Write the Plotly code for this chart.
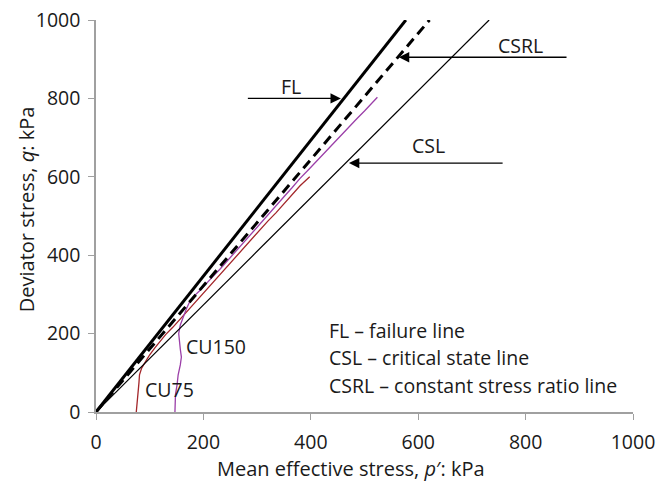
import plotly.graph_objects as go

# Line gradients (q/p ratios)
M_FL = 1.733
M_CSRL = 1.61
M_CSL = 1.366

# Stress paths (p', q) in kPa
cu75_p = [75, 76, 78, 80, 80, 81, 85, 92, 100, 110, 119, 130, 143, 156, 171, 185, 200, 214, 230, 245,
          260, 275, 290, 305, 320, 335, 350, 365, 380, 398]
cu75_q = [0, 15, 35, 56, 75, 95, 112, 128, 146, 164, 180, 198, 216, 236, 259, 280, 302, 324, 348, 371,
          394, 418, 440, 463, 487, 508, 531, 553, 577, 600]

cu150_p = [147, 147, 148, 151, 153, 157, 159, 157, 155, 154, 157, 162, 168, 174, 182, 192, 205, 218, 232,
           246, 260, 275, 290, 305, 320, 335, 350, 365, 380, 397, 412, 427, 442, 457, 472, 487, 500, 512, 524]
cu150_q = [0, 20, 45, 70, 95, 120, 140, 160, 180, 200, 222, 242, 262, 280, 295, 308, 326, 346, 366,
           388, 410, 433, 456, 480, 503, 526, 549, 572, 596, 620, 642, 664, 686, 708, 729, 750, 768, 786, 803]

x_ticks = [0, 200, 400, 600, 800, 1000]
y_ticks = [0, 200, 400, 600, 800, 1000]

legend_lines = ["FL – failure line", "CSL – critical state line", "CSRL – constant stress ratio line"]

FONT = "Open Sans"
TXT = "#1a1a1a"
fig = go.Figure()

fig.add_trace(go.Scatter(x=cu75_p, y=cu75_q, mode="lines",
                         line=dict(color="#A3262A", width=1.3), showlegend=False))
fig.add_trace(go.Scatter(x=cu150_p, y=cu150_q, mode="lines",
                         line=dict(color="#9B3FA8", width=1.3), showlegend=False))
fig.add_trace(go.Scatter(x=[0, 1000 / M_CSL], y=[0, 1000], mode="lines",
                         line=dict(color="black", width=1.2), showlegend=False))
fig.add_trace(go.Scatter(x=[0, 1000 / M_CSRL], y=[0, 1000], mode="lines",
                         line=dict(color="black", width=3, dash="10px,6px"), showlegend=False))
fig.add_trace(go.Scatter(x=[0, 1000 / M_FL], y=[0, 1000], mode="lines",
                         line=dict(color="black", width=3), showlegend=False))

# Arrows (head, tail) in data coordinates
arrows = [
    (456, 800, 280, 800),
    (564, 905, 879, 905),
    (471, 635, 760, 635),
]
for hx, hy, tx, ty in arrows:
    fig.add_annotation(x=hx, y=hy, ax=tx, ay=ty, xref="x", yref="y", axref="x", ayref="y",
                       text="", showarrow=True, arrowhead=2, arrowsize=1.6, arrowwidth=1.3,
                       arrowcolor="black")

labels = [("FL", 364, 830), ("CSRL", 790, 936), ("CSL", 620, 681)]
for t, x, y in labels:
    fig.add_annotation(x=x, y=y, text=t, showarrow=False, xref="x", yref="y",
                       font=dict(family=FONT, size=19.5, color=TXT))

fig.add_annotation(x=163, y=168, text="CU150", showarrow=False, xanchor="left",
                   font=dict(family=FONT, size=19.5, color=TXT))
fig.add_annotation(x=87, y=58, text="CU75", showarrow=False, xanchor="left",
                   font=dict(family=FONT, size=19.5, color=TXT))

for i, t in enumerate(legend_lines):
    fig.add_annotation(x=430, y=208 - i * 70, text=t, showarrow=False, xanchor="left",
                       font=dict(family=FONT, size=19.5, color=TXT))

# Axis titles
fig.add_annotation(xref="paper", yref="paper", x=0.475, y=-0.145, yanchor="middle",
                   text="Mean effective stress, <i>p</i>′: kPa", showarrow=False,
                   font=dict(family=FONT, size=20, color=TXT))
fig.add_annotation(xref="paper", yref="paper", x=-0.128, y=0.518, textangle=-90,
                   xanchor="center", yanchor="middle",
                   text="Deviator stress, <i>q</i>: kPa", showarrow=False,
                   font=dict(family=FONT, size=20, color=TXT))

axis_common = dict(showgrid=False, zeroline=False, showline=True, linecolor="#A0A0A0", linewidth=1.5,
                   ticks="outside", ticklen=6, tickcolor="#A0A0A0", tickwidth=1, automargin=False,
                   ticklabeloverflow="allow",
                   tickfont=dict(family=FONT, size=19.5, color=TXT), range=[0, 1000])

fig.update_layout(
    width=656, height=488,
    margin=dict(l=96, r=23, t=20, b=76),
    plot_bgcolor="white", paper_bgcolor="white",
    xaxis=dict(**axis_common, tickvals=x_ticks, ticklabelstandoff=6),
    yaxis=dict(**axis_common, tickvals=y_ticks, ticklabelstandoff=4),
)

fig.write_html("out.html", config={"displayModeBar": False},
               post_script="document.body.style.margin='0';document.body.style.padding='0';")
